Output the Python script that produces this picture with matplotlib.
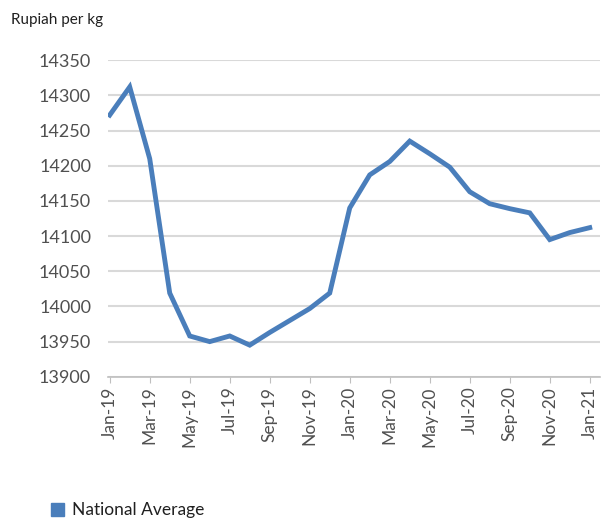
import matplotlib.pyplot as plt

plt.rcParams['font.family'] = ['Lato', 'DejaVu Sans']

months = ['Jan-19', 'Feb-19', 'Mar-19', 'Apr-19', 'May-19', 'Jun-19', 'Jul-19',
          'Aug-19', 'Sep-19', 'Oct-19', 'Nov-19', 'Dec-19', 'Jan-20', 'Feb-20',
          'Mar-20', 'Apr-20', 'May-20', 'Jun-20', 'Jul-20', 'Aug-20', 'Sep-20',
          'Oct-20', 'Nov-20', 'Dec-20', 'Jan-21']
national_avg = [14272, 14312, 14210, 14019, 13958, 13950, 13958, 13945, 13963,
                13980, 13997, 14019, 14140, 14187, 14206, 14235, 14217, 14198,
                14163, 14146, 14139, 14133, 14095, 14105, 14112]
y_ticks = [13900, 13950, 14000, 14050, 14100, 14150, 14200, 14250, 14300, 14350]

line_col = '#4a7ebb'
txt_col = '#505050'

fig = plt.figure(figsize=(6.12, 5.19), dpi=100)
ax = fig.add_axes([0.176, 0.274, 0.804, 0.610])

x = list(range(len(months)))
ax.plot(x, national_avg, color=line_col, lw=3.5, solid_joinstyle='miter')

ax.set_ylim(13900, 14350)
ax.set_xlim(-0.1, 24.5)
ax.set_yticks(y_ticks)
ax.set_yticklabels([str(v) for v in y_ticks], fontsize=13, color=txt_col)
ax.yaxis.grid(True, color='#d9d9d9', lw=1.5)
ax.set_axisbelow(True)
ax.tick_params(axis='y', length=0, pad=12)

ax.set_xticks(x[::2])
ax.set_xticklabels(months[::2], rotation=90, fontsize=12.5, color=txt_col)
ax.tick_params(axis='x', length=4, color='#bfbfbf', pad=3)

for s in ['top', 'right', 'left']:
    ax.spines[s].set_visible(False)
ax.spines['bottom'].set_color('#bfbfbf')
ax.spines['bottom'].set_linewidth(1.2)

fig.text(0.018, 0.962, 'Rupiah per kg', fontsize=11, color='#202020', va='center')

fig.patches.append(plt.Rectangle((0.083, 0.006), 0.021, 0.025,
                                 transform=fig.transFigure, color=line_col))
fig.text(0.118, 0.018, 'National Average', fontsize=12.5, color='#202020', va='center')

fig.savefig('out.png', dpi=100)
